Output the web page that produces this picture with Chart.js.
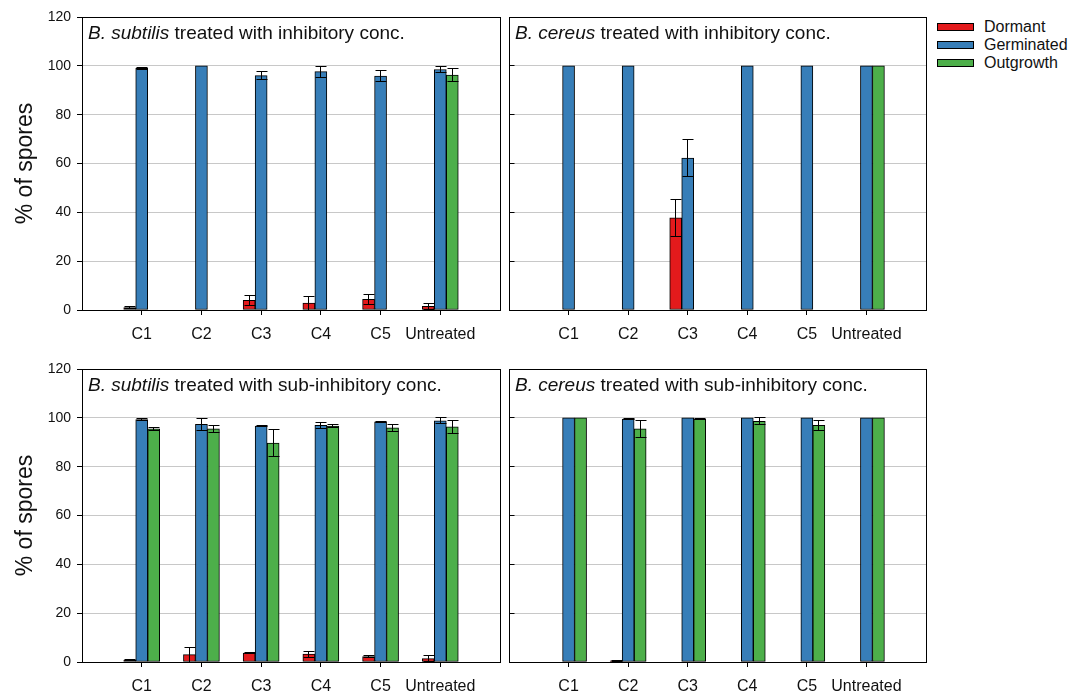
<!DOCTYPE html>
<html>
<head>
<meta charset="utf-8">
<script src="https://cdn.jsdelivr.net/npm/chart.js@4.4.1/dist/chart.umd.min.js"></script>
<style>
  html, body { margin: 0; padding: 0; background: #fff; }
  body { width: 1082px; height: 693px; position: relative; overflow: hidden;
         font-family: "Liberation Sans", Arial, Helvetica, sans-serif; color: #111; }
  .panel { position: absolute; }
  .panel canvas { display: block; }
  .legend-row { position: absolute; left: 937px; height: 18px; line-height: 18px; font-size: 16px; white-space: nowrap; }
  .legend-row .sw { position: absolute; left: 0; top: 5px; width: 35px; height: 6px; border: 1px solid #000; }
  .legend-row .lb { position: absolute; left: 47px; top: 0; }
</style>
</head>
<body>
<div class="panel" style="left:0px;top:0px"><canvas id="bsInh" width="505" height="350"></canvas></div>
<div class="panel" style="left:505px;top:0px"><canvas id="bcInh" width="425" height="350"></canvas></div>
<div class="panel" style="left:0px;top:351px"><canvas id="bsSub" width="505" height="342"></canvas></div>
<div class="panel" style="left:505px;top:351px"><canvas id="bcSub" width="425" height="342"></canvas></div>
<div id="legend"></div>

<script>
// ---- data -------------------------------------------------------------
const categories = ['C1', 'C2', 'C3', 'C4', 'C5', 'Untreated'];
const seriesNames = ['Dormant', 'Germinated', 'Outgrowth'];
const seriesColors = ['#e31a1c', '#377eb8', '#4daf4a'];
const yTicks = [0, 20, 40, 60, 80, 100, 120];
const yTitle = '% of spores';

// B. subtilis, inhibitory concentration
const bsInhDormant       = [1.0, 0, 4.0, 2.8, 4.4, 1.5];
const bsInhDormantErr    = [0.3, 0, 2.0, 2.8, 2.0, 1.1];
const bsInhGerminated    = [99.0, 100, 96.0, 97.6, 95.8, 98.5];
const bsInhGerminatedErr = [0.3, 0, 1.8, 2.3, 2.2, 1.1];
const bsInhOutgrowth     = [0, 0, 0, 0, 0, 96.2];
const bsInhOutgrowthErr  = [0, 0, 0, 0, 0, 2.7];

// B. cereus, inhibitory concentration
const bcInhDormant       = [0, 0, 37.8, 0, 0, 0];
const bcInhDormantErr    = [0, 0, 7.6, 0, 0, 0];
const bcInhGerminated    = [100, 100, 62.2, 100, 100, 100];
const bcInhGerminatedErr = [0, 0, 7.5, 0, 0, 0];
const bcInhOutgrowth     = [0, 0, 0, 0, 0, 100];
const bcInhOutgrowthErr  = [0, 0, 0, 0, 0, 0];

// B. subtilis, sub-inhibitory concentration
const bsSubDormant       = [0.8, 3.0, 3.7, 3.2, 2.2, 1.4];
const bsSubDormantErr    = [0.3, 3.1, 0.3, 1.2, 0.3, 1.2];
const bsSubGerminated    = [99.3, 97.3, 96.6, 96.9, 98.4, 98.8];
const bsSubGerminatedErr = [0.4, 2.6, 0.3, 1.2, 0.2, 1.2];
const bsSubOutgrowth     = [95.5, 95.5, 89.7, 96.6, 95.9, 96.3];
const bsSubOutgrowthErr  = [0.7, 1.4, 5.5, 0.5, 1.4, 2.8];

// B. cereus, sub-inhibitory concentration
const bcSubDormant       = [0, 0.5, 0, 0, 0, 0];
const bcSubDormantErr    = [0, 0.3, 0, 0, 0, 0];
const bcSubGerminated    = [100, 99.5, 100, 100, 100, 100];
const bcSubGerminatedErr = [0, 0.3, 0, 0, 0, 0];
const bcSubOutgrowth     = [100, 95.5, 99.5, 98.6, 96.9, 100];
const bcSubOutgrowthErr  = [0, 3.4, 0.3, 1.4, 2.1, 0];

// ---- drawing ----------------------------------------------------------
const FONT = '"Liberation Sans", Arial, Helvetica, sans-serif';
const INK = '#111';

function crisp(v) { return Math.round(v - 0.5) + 0.5; }

// Black box around the plot area, plus short inward ticks for panels without a labelled y axis
function panelFrame(p) {
  return {
    id: 'panelFrame',
    afterDatasetsDraw(chart) {
      const { ctx, chartArea: a, scales } = chart;
      ctx.save();
      ctx.strokeStyle = '#000';
      ctx.lineWidth = 1;
      const l = crisp(a.left), r = crisp(a.right), t = crisp(a.top), b = crisp(a.bottom);
      ctx.strokeRect(l, t, r - l, b - t);
      if (!p.showY) {
        ctx.beginPath();
        yTicks.forEach(v => {
          const y = crisp(scales.y.getPixelForValue(v));
          ctx.moveTo(l, y);
          ctx.lineTo(l + 5, y);
        });
        ctx.stroke();
      }
      ctx.restore();
    }
  };
}

// Symmetric error bars with caps, read from each dataset's `errors` array
const errorBars = {
  id: 'errorBars',
  afterDatasetsDraw(chart) {
    const { ctx, chartArea: a, scales: { y } } = chart;
    ctx.save();
    ctx.beginPath();
    ctx.rect(a.left, a.top - 1, a.right - a.left, a.bottom - a.top + 1);
    ctx.clip();
    ctx.strokeStyle = '#000';
    ctx.lineWidth = 1;
    chart.data.datasets.forEach((ds, i) => {
      const meta = chart.getDatasetMeta(i);
      meta.data.forEach((bar, j) => {
        const v = ds.data[j], e = ds.errors[j];
        if (v == null || !e) return;
        const x = crisp(bar.x);
        const hi = crisp(y.getPixelForValue(v + e));
        const lo = crisp(y.getPixelForValue(v - e));
        ctx.beginPath();
        ctx.moveTo(x, hi); ctx.lineTo(x, lo);
        ctx.moveTo(x - 5, hi); ctx.lineTo(x + 6, hi);
        ctx.moveTo(x - 5, lo); ctx.lineTo(x + 6, lo);
        ctx.stroke();
      });
    });
    ctx.restore();
  }
};

// Panel heading: italic species name followed by the treatment
function panelTitle(p) {
  return {
    id: 'panelTitle',
    afterDraw(chart) {
      const { ctx, chartArea: a } = chart;
      ctx.save();
      ctx.fillStyle = INK;
      ctx.textAlign = 'left';
      ctx.textBaseline = 'alphabetic';
      let x = a.left + 6;
      const y = a.top + 22;
      ctx.font = 'italic 19px ' + FONT;
      ctx.fillText(p.species, x, y);
      x += ctx.measureText(p.species).width;
      ctx.font = '19px ' + FONT;
      ctx.fillText(p.rest, x, y);
      ctx.restore();
    }
  };
}

function makeChart(p) {
  const labels = ['', ...categories, ''];
  const pad = arr => [null, ...arr, null];
  const datasets = seriesNames.map((name, k) => ({
    label: name,
    data: pad(p.values[k]),
    errors: pad(p.errors[k]),
    backgroundColor: seriesColors[k],
    borderColor: '#000',
    borderWidth: 1,
    borderSkipped: false,
    barThickness: 12
  }));

  return new Chart(document.getElementById(p.id), {
    type: 'bar',
    data: { labels, datasets },
    options: {
      responsive: false,
      animation: false,
      devicePixelRatio: 1,
      events: [],
      layout: { padding: p.padding },
      plugins: { legend: { display: false }, tooltip: { enabled: false } },
      scales: {
        x: {
          type: 'category',
          offset: false,
          border: { display: false },
          grid: {
            offset: false,
            drawOnChartArea: false,
            drawTicks: true,
            tickLength: 5,
            tickWidth: 1,
            tickColor: c => (c.index === 0 || c.index === labels.length - 1) ? 'rgba(0,0,0,0)' : '#000'
          },
          ticks: { autoSkip: false, maxRotation: 0, color: INK, padding: 4,
                   font: { family: FONT, size: 16, lineHeight: 1.95 } },
          afterFit: s => { s.height = p.xAxisHeight; }
        },
        y: {
          min: 0,
          max: 120,
          border: { display: false },
          grid: { color: '#c8c8c8', lineWidth: 1, drawTicks: p.showY, tickLength: 5, tickColor: '#000' },
          ticks: { display: p.showY, stepSize: 20, color: INK, padding: 6,
                   font: { family: FONT, size: 14 } },
          title: { display: p.showY, text: yTitle, color: INK,
                   font: { family: FONT, size: 23 }, padding: { top: 12, bottom: 0 } },
          afterFit: s => { s.width = p.yAxisWidth; }
        }
      }
    },
    plugins: [panelFrame(p), errorBars, panelTitle(p)]
  });
}

const panels = [
  { id: 'bsInh', species: 'B. subtilis', rest: ' treated with inhibitory conc.', showY: true,
    padding: { left: 0, top: 17, right: 5, bottom: 0 }, yAxisWidth: 82, xAxisHeight: 40,
    values: [bsInhDormant, bsInhGerminated, bsInhOutgrowth],
    errors: [bsInhDormantErr, bsInhGerminatedErr, bsInhOutgrowthErr] },
  { id: 'bcInh', species: 'B. cereus', rest: ' treated with inhibitory conc.', showY: false,
    padding: { left: 4, top: 17, right: 3, bottom: 0 }, yAxisWidth: 0, xAxisHeight: 40,
    values: [bcInhDormant, bcInhGerminated, bcInhOutgrowth],
    errors: [bcInhDormantErr, bcInhGerminatedErr, bcInhOutgrowthErr] },
  { id: 'bsSub', species: 'B. subtilis', rest: ' treated with sub-inhibitory conc.', showY: true,
    padding: { left: 0, top: 18, right: 5, bottom: 0 }, yAxisWidth: 82, xAxisHeight: 31,
    values: [bsSubDormant, bsSubGerminated, bsSubOutgrowth],
    errors: [bsSubDormantErr, bsSubGerminatedErr, bsSubOutgrowthErr] },
  { id: 'bcSub', species: 'B. cereus', rest: ' treated with sub-inhibitory conc.', showY: false,
    padding: { left: 4, top: 18, right: 3, bottom: 0 }, yAxisWidth: 0, xAxisHeight: 31,
    values: [bcSubDormant, bcSubGerminated, bcSubOutgrowth],
    errors: [bcSubDormantErr, bcSubGerminatedErr, bcSubOutgrowthErr] }
];

panels.forEach(makeChart);

// Shared legend
const legend = document.getElementById('legend');
seriesNames.forEach((name, k) => {
  const row = document.createElement('div');
  row.className = 'legend-row';
  row.style.top = (18 + 18 * k) + 'px';
  const sw = document.createElement('span');
  sw.className = 'sw';
  sw.style.background = seriesColors[k];
  const lb = document.createElement('span');
  lb.className = 'lb';
  lb.textContent = name;
  row.appendChild(sw);
  row.appendChild(lb);
  legend.appendChild(row);
});
</script>
</body>
</html>
